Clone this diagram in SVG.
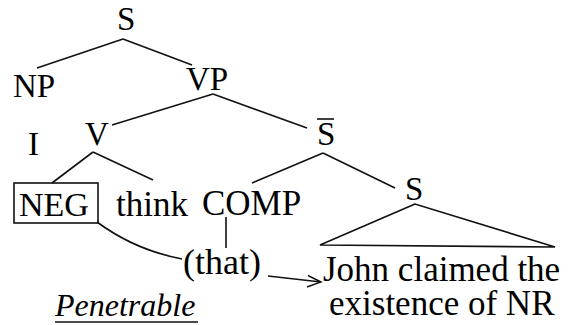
<svg xmlns="http://www.w3.org/2000/svg" width="572" height="325" viewBox="0 0 572 325">
<rect width="572" height="325" fill="#fff"/>
<g id="connectors">
<line x1="123" y1="39" x2="37" y2="68" stroke="#111" stroke-width="1.6"/>
<line x1="123" y1="39" x2="192" y2="65" stroke="#111" stroke-width="1.6"/>
<line x1="213" y1="94" x2="112" y2="125" stroke="#111" stroke-width="1.6"/>
<line x1="213" y1="94" x2="307" y2="128" stroke="#111" stroke-width="1.6"/>
<line x1="93" y1="152" x2="52" y2="183" stroke="#111" stroke-width="1.6"/>
<line x1="93" y1="152" x2="153" y2="180" stroke="#111" stroke-width="1.6"/>
<line x1="323" y1="153" x2="252" y2="183" stroke="#111" stroke-width="1.6"/>
<line x1="323" y1="153" x2="395" y2="188" stroke="#111" stroke-width="1.6"/>
<line x1="226" y1="217" x2="226" y2="248" stroke="#111" stroke-width="1.6"/>
<path d="M415,204 L320,245 L555,247 Z" stroke="#111" stroke-width="1.6" fill="none"/>
<path d="M97,222 Q135,250 182,259" stroke="#111" stroke-width="1.6" fill="none"/>
<path d="M268,276 L321,282" stroke="#111" stroke-width="1.4" fill="none"/>
<path d="M308,275.5 L321,282 L307,287" stroke="#111" stroke-width="1.4" fill="none"/>
</g>
<g id="n-S"><text x="117" y="30" font-family="Liberation Serif" font-size="33">S</text></g>
<g id="n-NP"><text x="13" y="97" font-family="Liberation Serif" font-size="33">NP</text></g>
<g id="n-VP"><text x="186" y="90" font-family="Liberation Serif" font-size="33">VP</text></g>
<g id="n-I"><text x="28" y="155" font-family="Liberation Serif" font-size="33">I</text></g>
<g id="n-V"><text x="85" y="145" font-family="Liberation Serif" font-size="33">V</text></g>
<g id="n-Sbar"><text x="317" y="145" font-family="Liberation Serif" font-size="33">S</text><line x1="317" y1="119" x2="334" y2="119" stroke="#111" stroke-width="1.6"/></g>
<g id="n-S2"><text x="405" y="200" font-family="Liberation Serif" font-size="33">S</text></g>
<g id="n-NEG"><rect x="14" y="183" width="84" height="40" stroke="#111" stroke-width="1.6" fill="none"/><text x="19" y="216" font-family="Liberation Serif" font-size="34">NEG</text></g>
<g id="n-think"><text x="116" y="216" font-family="Liberation Serif" font-size="35">think</text></g>
<g id="n-COMP"><text x="202" y="215" font-family="Liberation Serif" font-size="35">COMP</text></g>
<g id="n-that"><text x="183" y="274" font-family="Liberation Serif" font-size="36">(that)</text></g>
<g id="n-john"><text x="323" y="281" font-family="Liberation Serif" font-size="35">John claimed the</text><text x="329" y="315" font-family="Liberation Serif" font-size="35">existence of NR</text></g>
<g id="label"><text x="55" y="316" font-family="Liberation Serif" font-style="italic" font-size="32">Penetrable</text><line x1="55" y1="322" x2="198" y2="322" stroke="#111" stroke-width="1.4"/></g>
</svg>
